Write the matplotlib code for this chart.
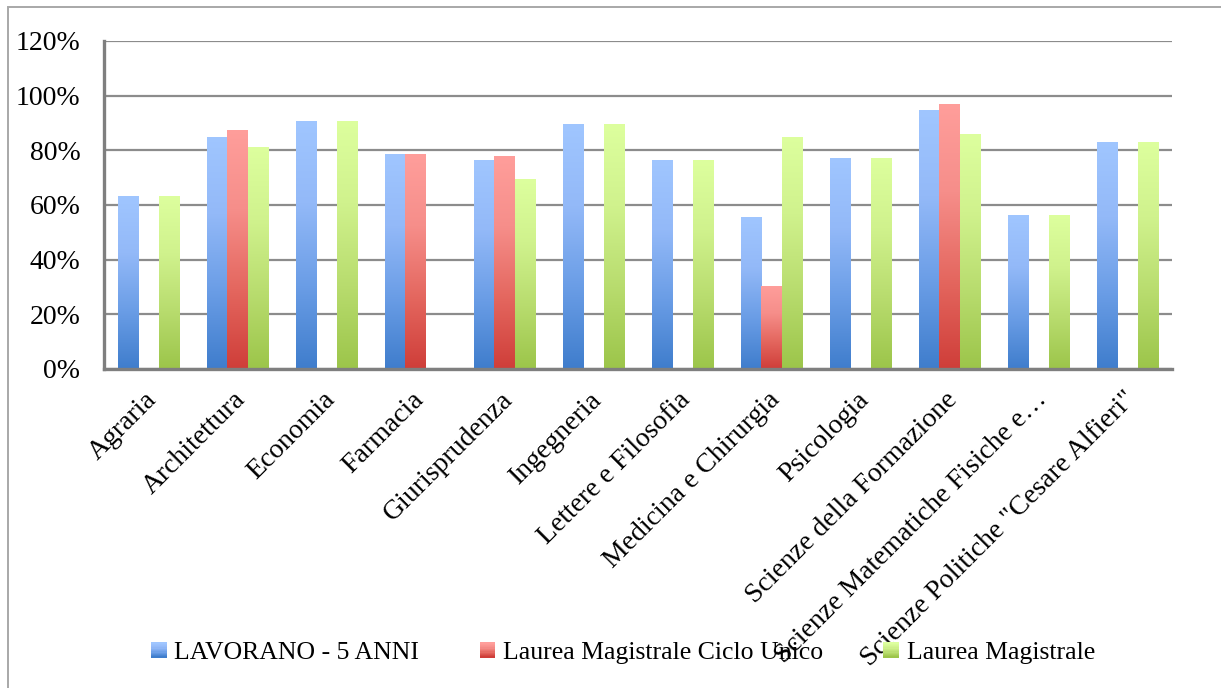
import numpy as np
import matplotlib
matplotlib.use("Agg")
import matplotlib.pyplot as plt
from matplotlib.colors import LinearSegmentedColormap
from matplotlib.patches import Rectangle
from matplotlib.legend_handler import HandlerPatch

# ---- data -------------------------------------------------------------
categories = [
    "Agraria", "Architettura", "Economia", "Farmacia", "Giurisprudenza",
    "Ingegneria", "Lettere e Filosofia", "Medicina e Chirurgia", "Psicologia",
    "Scienze della Formazione", "Scienze Matematiche Fisiche e…",
    "Scienze Politiche \"Cesare Alfieri\"",
]
series_names = ["LAVORANO - 5 ANNI", "Laurea Magistrale Ciclo Unico", "Laurea Magistrale"]
lavorano = [63.3, 85.0, 90.8, 78.6, 76.3, 89.5, 76.3, 55.7, 77.3, 94.6, 56.3, 83.1]
ciclo_unico = [np.nan, 87.6, np.nan, 78.6, 78.1, np.nan, np.nan, 30.5, np.nan, 97.1, np.nan, np.nan]
magistrale = [63.3, 81.3, 90.8, np.nan, 69.4, 89.5, 76.3, 84.9, 77.3, 85.8, 56.3, 83.1]
y_ticks = [0, 20, 40, 60, 80, 100, 120]

# vertical gradients (top -> bottom) for each series
gradients = [
    ["#a0c6ff", "#93b9f8", "#6a9de6", "#3f7dcc"],
    ["#ff9e9b", "#f68e8a", "#e4675f", "#cf3e39"],
    ["#ddff9e", "#d0f28d", "#b8dc6e", "#9cc54a"],
]
mid_colors = ["#6f9fe6", "#e7716c", "#bfe07a"]

plt.rcParams["font.family"] = ["Liberation Serif", "DejaVu Serif"]

fig = plt.figure(figsize=(12.21, 6.88), dpi=100)
ax = fig.add_axes([104 / 1221, 1 - 369 / 688, (1172 - 104) / 1221, (369 - 41) / 688])

x = np.arange(len(categories))
width = 0.225
offsets = [-width, 0.0, width]
all_series = [lavorano, ciclo_unico, magistrale]

grad_img = np.linspace(1, 0, 256).reshape(-1, 1)
for vals, off, stops in zip(all_series, offsets, gradients):
    cmap = LinearSegmentedColormap.from_list("g", stops[::-1])
    bars = ax.bar(x + off, vals, width, color="none", edgecolor="none", zorder=3)
    for rect in bars:
        h = rect.get_height()
        if not np.isfinite(h) or h <= 0:
            continue
        x0 = rect.get_x()
        im = ax.imshow(grad_img, cmap=cmap, aspect="auto",
                       extent=(x0, x0 + rect.get_width(), 0, h),
                       interpolation="bicubic", zorder=3)
        im.set_clip_path(rect)

ax.set_xlim(-0.5, len(categories) - 0.5)
ax.set_ylim(0, 120)
ax.set_yticks(y_ticks)
ax.set_yticklabels([f"{t}%" for t in y_ticks], fontsize=20)
ax.tick_params(axis="y", length=0, pad=17)
ax.set_xticks(x)
ax.set_xticklabels([])
ax.tick_params(axis="x", length=0)

ax.yaxis.grid(True, color="#8c8c8c", linewidth=1.6, zorder=1)
ax.set_axisbelow(True)
for side in ["top", "right"]:
    ax.spines[side].set_visible(False)
for side in ["left", "bottom"]:
    ax.spines[side].set_color("#7f7f7f")
    ax.spines[side].set_linewidth(2.4)
    ax.spines[side].set_zorder(4)

# rotated category labels
for xi, lab in zip(x, categories):
    ax.annotate(lab, xy=(xi - 0.05, 0), xycoords=("data", "axes fraction"),
                xytext=(0, -18), textcoords="offset pixels",
                rotation=45, ha="right", va="top", rotation_mode="anchor",
                fontsize=20, annotation_clip=False)

# legend with gradient squares
class GradientHandler(HandlerPatch):
    def __init__(self, stops):
        super().__init__()
        self.stops = stops

    def create_artists(self, legend, orig_handle, xdescent, ydescent,
                       width, height, fontsize, trans):
        side = min(width, height)
        n = 12
        artists = []
        cmap = LinearSegmentedColormap.from_list("g", self.stops[::-1])
        for k in range(n):
            y0 = -ydescent + (height - side) / 2 + side * k / n
            r = Rectangle((-xdescent, y0), side, side / n + 0.3,
                          facecolor=cmap(k / (n - 1)), edgecolor="none",
                          transform=trans)
            artists.append(r)
        return artists

handles = [Rectangle((0, 0), 1, 1, facecolor=c) for c in mid_colors]
leg = fig.legend(handles, series_names, loc="center", ncol=3,
                 bbox_to_anchor=(623 / 1221, 1 - 653 / 688),
                 frameon=False, fontsize=18.5, handlelength=0.6,
                 handleheight=0.6, handletextpad=0.3, columnspacing=2.35,
                 handler_map={h: GradientHandler(g) for h, g in zip(handles, gradients)})

# outer chart frame
fig.patches.append(Rectangle((8 / 1221, -0.05), 1.2, 1 - 7 / 688 + 0.05,
                             transform=fig.transFigure, fill=False,
                             edgecolor="#a8a8a8", linewidth=1.4))

fig.savefig("out.png", dpi=100)
